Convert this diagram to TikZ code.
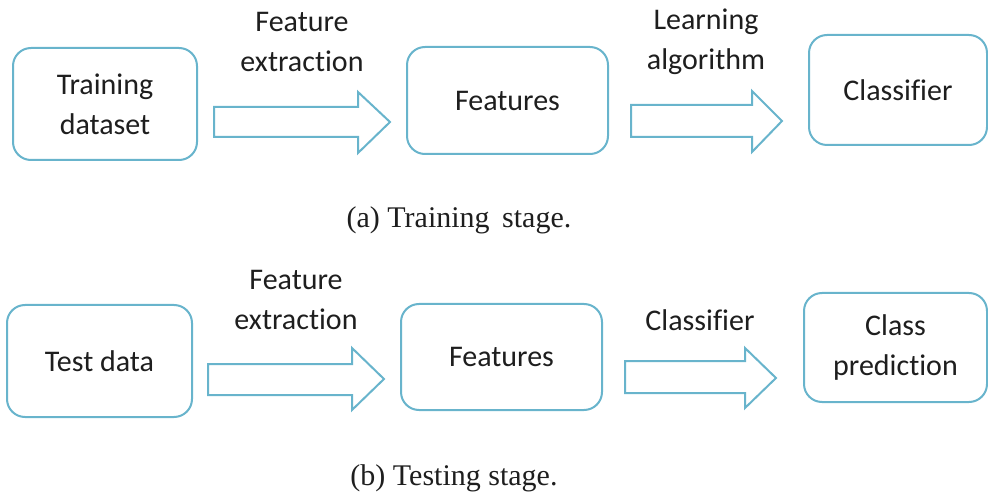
\documentclass[tikz,border=0pt]{standalone}
\usepackage{fontspec}
\setmainfont{Carlito}[Ligatures=NoCommon]
\newfontfamily\capfont{Liberation Serif}
\definecolor{edge}{RGB}{104,180,204}
\definecolor{ink}{RGB}{30,30,30}
\begin{document}
\begin{tikzpicture}[x=1pt,y=-1pt,
  box/.style={draw=edge, line width=2pt, rounded corners=18pt, fill=white,
    inner sep=0pt, align=center, text=ink, font=\fontsize{30}{40}\selectfont},
  lbl/.style={align=center, text=ink, font=\fontsize{30}{40}\selectfont, inner sep=0pt},
  captext/.style={text=ink, font=\capfont\fontsize{30}{36}\selectfont, inner sep=0pt},
  blockarrow/.style={draw=edge, line width=2pt, fill=white, line join=miter}]
\useasboundingbox (0,0) rectangle (988,494);
% ---------- (a) training stage ----------
\node[box, minimum width=184pt, minimum height=112pt] (td) at (105,104) {Training\\dataset};
\node[box, minimum width=201pt, minimum height=107pt] (f1) at (507.5,100.5) {Features};
\node[box, minimum width=178pt, minimum height=110pt] (c1) at (898,90) {Classifier};
\draw[blockarrow] (214,107) -- (358,107) -- (358,92) -- (390,122) -- (358,153) -- (358,137) -- (214,137) -- cycle;
\draw[blockarrow] (631,105) -- (752,105) -- (752,91) -- (782,121) -- (752,152) -- (752,137) -- (631,137) -- cycle;
\node[lbl] (l1) at (302,42) {Feature\\extraction};
\node[lbl] (l2) at (706,42) {Learning\\algorithm};
\node[captext] (capa) at (459,220) {(a) Training\hspace{5pt} stage.};
% ---------- (b) testing stage ----------
\node[box, minimum width=185pt, minimum height=112pt] (ts) at (99.5,361) {Test data};
\node[box, minimum width=201pt, minimum height=106pt] (f2) at (501.5,357) {Features};
\node[box, minimum width=183pt, minimum height=109pt] (cp) at (895.5,347.5) {Class\\prediction};
\draw[blockarrow] (208,364) -- (352,364) -- (352,348) -- (384,379) -- (352,410) -- (352,395) -- (208,395) -- cycle;
\draw[blockarrow] (625,361) -- (745,361) -- (745,348) -- (776,378) -- (745,408) -- (745,393) -- (625,393) -- cycle;
\node[lbl] (l3) at (296,300) {Feature\\extraction};
\node[lbl] (l4) at (700,320) {Classifier};
\node[captext] (capb) at (454,478) {(b) Testing stage.};
\end{tikzpicture}
\end{document}
